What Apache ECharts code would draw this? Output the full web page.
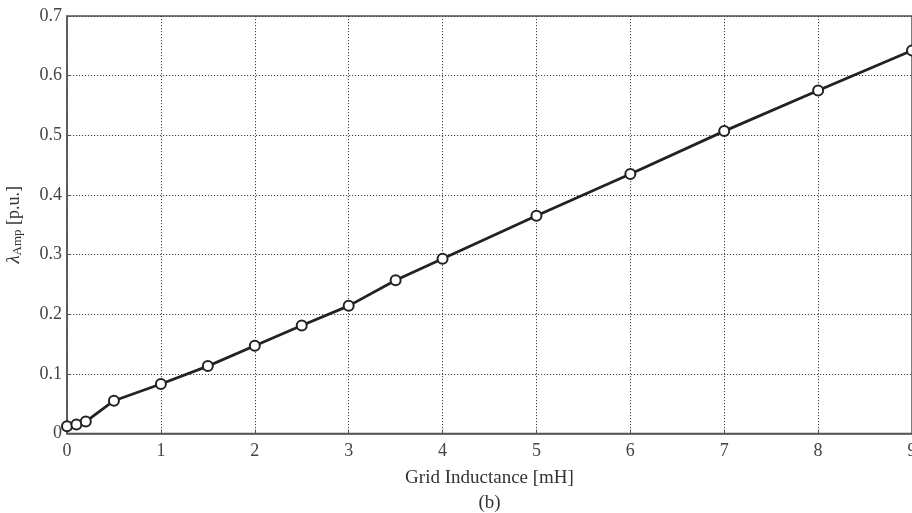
<!DOCTYPE html>
<html>
<head>
<meta charset="utf-8">
<script src="https://cdn.jsdelivr.net/npm/echarts@6/dist/echarts.min.js"></script>
<style>html,body{margin:0;padding:0;background:#fff;}#c{width:912px;height:513px;}</style>
</head>
<body>
<div id="c"></div>
<script>
const inductance = [0, 0.1, 0.2, 0.5, 1, 1.5, 2, 2.5, 3, 3.5, 4, 5, 6, 7, 8, 9];
const lambdaAmp = [0.012, 0.015, 0.020, 0.055, 0.083, 0.113, 0.147, 0.181, 0.214, 0.257, 0.293, 0.365, 0.435, 0.507, 0.575, 0.642];
const xLabelName = 'Grid Inductance [mH]';
const captionText = '(b)';

const chart = echarts.init(document.getElementById('c'), null, {renderer: 'canvas'});
const font = 'Liberation Serif';
chart.setOption({
  animation: false,
  backgroundColor: '#fff',
  grid: {left: 67, right: 0, top: 16, bottom: 79.5, show: true, borderColor: '#555', borderWidth: 1.5,
         backgroundColor: 'transparent', containLabel: false, outerBoundsMode: 'none'},
  xAxis: {
    type: 'value', min: 0, max: 9, interval: 1,
    name: xLabelName + '\n{b|' + captionText + '}',
    nameLocation: 'middle', nameGap: 31,
    nameTextStyle: {fontFamily: font, fontSize: 19, color: '#333', lineHeight: 25,
      rich: {b: {fontFamily: font, fontSize: 19, color: '#333', lineHeight: 25}}},
    axisLine: {show: true, lineStyle: {color: '#555', width: 1.5}},
    axisTick: {show: true, inside: true, length: 4, lineStyle: {color: '#555'}},
    axisLabel: {fontFamily: font, fontSize: 18, color: '#444', margin: 9},
    splitLine: {show: true, lineStyle: {type: [1.2, 1.8], color: '#444', width: 1}}
  },
  yAxis: {
    type: 'value', min: 0, max: 0.7, interval: 0.1,
    name: '{l|λ}{s|Amp}{n| [p.u.]}',
    nameLocation: 'middle', nameGap: 43, nameRotate: 90,
    nameTextStyle: {rich: {
      l: {fontFamily: font, fontSize: 19, color: '#333', fontStyle: 'italic'},
      s: {fontFamily: font, fontSize: 13, color: '#333', verticalAlign: 'bottom', padding: [7, 0, 0, 0]},
      n: {fontFamily: font, fontSize: 18, color: '#333'}
    }},
    axisLine: {show: true, lineStyle: {color: '#555', width: 1.5}},
    axisTick: {show: true, inside: true, length: 4, lineStyle: {color: '#555'}},
    axisLabel: {fontFamily: font, fontSize: 18, color: '#444', margin: 5, formatter: v => v === 0 ? '0' : v.toFixed(1)},
    splitLine: {show: true, lineStyle: {type: [1.2, 1.8], color: '#444', width: 1}}
  },
  series: [{
    type: 'line',
    data: inductance.map((x, i) => [x, lambdaAmp[i]]),
    symbol: 'circle', symbolSize: 10,
    lineStyle: {color: '#222', width: 2.8},
    itemStyle: {color: '#fff', borderColor: '#222', borderWidth: 2},
    z: 5
  }]
});
</script>
</body>
</html>
